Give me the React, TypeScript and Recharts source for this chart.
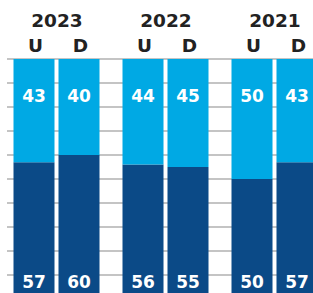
import { BarChart, Bar, XAxis, YAxis, CartesianGrid, LabelList } from 'recharts';

const years = ['2023', '2022', '2021'];
const uBottom = [57, 56, 50];
const uTop = [43, 44, 50];
const dBottom = [60, 55, 57];
const dTop = [40, 45, 43];
const yTicks = [0, 10, 20, 30, 40, 50, 60, 70, 80, 90, 100];

const LIGHT = '#00a9e4';
const DARK = '#0b4a87';
const FONT = '"DejaVu Sans", sans-serif';

const data = years.map((year, i) => ({
  year,
  uBottom: uBottom[i],
  uTop: uTop[i],
  dBottom: dBottom[i],
  dTop: dTop[i],
}));

const topValue = (props: any) => {
  const { x, y, width, value } = props;
  return (
    <text x={x + width / 2} y={y + 43} textAnchor="middle" fill="#fff" fontSize={17} fontWeight="bold" fontFamily={FONT}>
      {value}
    </text>
  );
};

const bottomValue = (props: any) => {
  const { x, y, width, height, value } = props;
  return (
    <text x={x + width / 2} y={y + height - 11} textAnchor="middle" fill="#fff" fontSize={17} fontWeight="bold" fontFamily={FONT}>
      {value}
    </text>
  );
};

const letter = (txt: string) => (props: any) => {
  const { x, y, width } = props;
  return (
    <text x={x + width / 2 + 1.5} y={y - 7} textAnchor="middle" fill="#222" fontSize={18.5} fontWeight="bold" fontFamily={FONT}>
      {txt}
    </text>
  );
};

const YearTick = (props: any) => {
  const { x, payload } = props;
  return (
    <text x={x + 1} y={27} textAnchor="middle" fill="#222" fontSize={18.5} fontWeight="bold" fontFamily={FONT}>
      {payload.value}
    </text>
  );
};

export default function App() {
  return (
    <div style={{ position: 'fixed', top: 0, left: 0, width: 313, height: 293, overflow: 'hidden', background: '#fff' }}>
      <BarChart
        width={328.5}
        height={299}
        data={data}
        margin={{ top: 0, right: 0, left: 7, bottom: 0 }}
        barSize={41}
        barGap={4}
      >
        <CartesianGrid vertical={false} stroke="#c4c4c4" strokeWidth={2} />
        <XAxis
          dataKey="year"
          orientation="top"
          height={59}
          axisLine={false}
          tickLine={false}
          padding={{ left: -5.5, right: 0 }}
          tick={<YearTick />}
          interval={0}
        />
        <YAxis hide domain={[0, 100]} ticks={yTicks} />
        <Bar dataKey="uBottom" stackId="u" fill={DARK} isAnimationActive={false}>
          <LabelList dataKey="uBottom" content={bottomValue} />
        </Bar>
        <Bar dataKey="uTop" stackId="u" fill={LIGHT} isAnimationActive={false}>
          <LabelList dataKey="uTop" content={topValue} />
          <LabelList dataKey="uTop" content={letter('U')} />
        </Bar>
        <Bar dataKey="dBottom" stackId="d" fill={DARK} isAnimationActive={false}>
          <LabelList dataKey="dBottom" content={bottomValue} />
        </Bar>
        <Bar dataKey="dTop" stackId="d" fill={LIGHT} isAnimationActive={false}>
          <LabelList dataKey="dTop" content={topValue} />
          <LabelList dataKey="dTop" content={letter('D')} />
        </Bar>
      </BarChart>
    </div>
  );
}
